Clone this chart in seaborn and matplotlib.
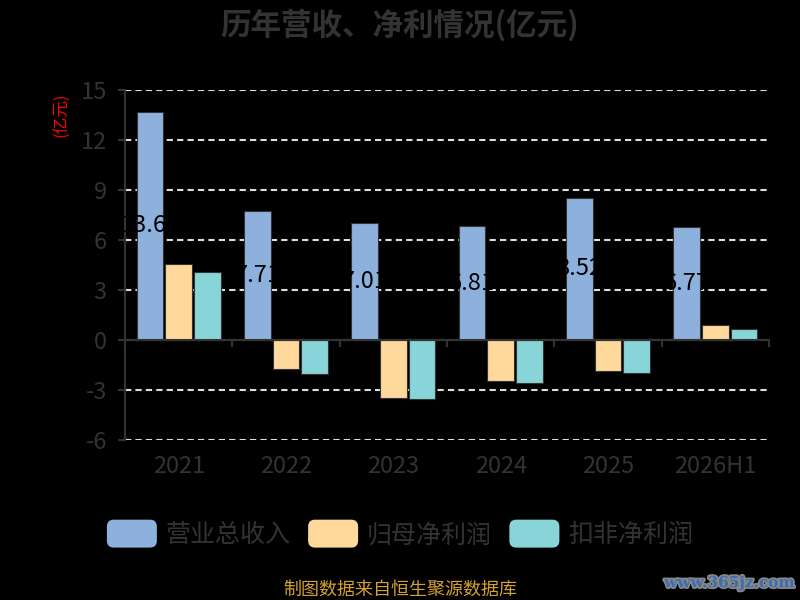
import matplotlib
matplotlib.use("Agg")
import matplotlib.pyplot as plt
import matplotlib.patheffects as pe
from matplotlib.patches import FancyBboxPatch, Patch
from matplotlib.legend_handler import HandlerPatch
import seaborn as sns
import pandas as pd

# ---- data ----
years = ["2021", "2022", "2023", "2024", "2025", "2026H1"]
revenue = [13.69, 7.71, 7.01, 6.81, 8.52, 6.77]
net_profit = [4.56, -1.72, -3.48, -2.44, -1.84, 0.90]
deducted_profit = [4.10, -2.06, -3.56, -2.60, -1.96, 0.66]
series_names = ["营业总收入", "归母净利润", "扣非净利润"]
colors = ["#8EB0DC", "#FFD99B", "#87D5D8"]
y_ticks = [-6, -3, 0, 3, 6, 9, 12, 15]

df = pd.DataFrame({
    "year": years * 3,
    "value": revenue + net_profit + deducted_profit,
    "series": [series_names[0]] * 6 + [series_names[1]] * 6 + [series_names[2]] * 6,
})

sns.set_theme(style="dark")
plt.rcParams["font.family"] = ["Noto Sans CJK SC", "DejaVu Sans"]
plt.rcParams["axes.unicode_minus"] = False

fig = plt.figure(figsize=(8, 6), dpi=100, facecolor="black")
ax = fig.add_axes([0.15625, 0.2667, 0.805, 0.5833])
ax.set_facecolor("black")

sns.barplot(data=df, x="year", y="value", hue="series", order=years,
            hue_order=series_names, palette=colors, saturation=1,
            width=0.8, gap=0.06, edgecolor="#333333", linewidth=0.8,
            ax=ax, legend=False)

ax.set_ylim(-6, 15)
ax.set_xlim(-0.5, len(years) - 0.5)
ax.set_yticks(y_ticks)
ax.set_yticklabels([str(t) for t in y_ticks])

# grid
ax.yaxis.grid(True, color="#dddddd", linestyle=(0, (3, 2)), linewidth=1.5)
ax.xaxis.grid(False)
ax.set_axisbelow(True)

# spines
for s in ["top", "right"]:
    ax.spines[s].set_visible(False)
ax.spines["left"].set_color("#333333")
ax.spines["left"].set_linewidth(1.5)
ax.spines["bottom"].set_position(("data", 0))
ax.spines["bottom"].set_color("#333333")
ax.spines["bottom"].set_linewidth(1.5)
ax.spines["bottom"].set_zorder(5)

ax.tick_params(axis="y", colors="#333333", labelsize=17, length=5, width=1.5,
               direction="out", left=True, pad=8)
ax.set_xticks(range(len(years)))
ax.set_xticklabels(years)
ax.set_xticks([i - 0.5 for i in range(len(years) + 1)], minor=True)
ax.tick_params(axis="x", which="major", length=0, labelsize=17,
               labelcolor="#333333", pad=83)
ax.tick_params(axis="x", which="minor", length=5, width=1.5, color="#333333",
               direction="out", bottom=True)

ax.set_xlabel("")
ax.set_ylabel("(亿元)", color="red", fontsize=12, rotation=90)
ax.yaxis.set_label_coords(-0.085, 0.93)

# data labels on revenue bars
ax.bar_label(ax.containers[0], labels=[f"{v:.2f}" for v in revenue],
             label_type="center", color="black", fontsize=17)

# title
fig.text(0.5, 0.958, "历年营收、净利情况(亿元)", ha="center", va="center",
         fontsize=22, fontweight="bold", color="#333333")


# legend with rounded handles
class RoundHandler(HandlerPatch):
    def create_artists(self, legend, orig_handle, xdescent, ydescent,
                       width, height, fontsize, trans):
        p = FancyBboxPatch((-xdescent, -ydescent - 2), width, height + 4,
                           boxstyle="round,pad=0,rounding_size=5",
                           facecolor=orig_handle.get_facecolor(),
                           edgecolor="none", transform=trans)
        return [p]


handles = [Patch(facecolor=c, label=n) for c, n in zip(colors, series_names)]
leg = fig.legend(handles=handles, loc="center", bbox_to_anchor=(0.5, 0.108),
                 ncol=3, frameon=False, fontsize=18, handlelength=2.0,
                 handleheight=1.0, handletextpad=0.35, columnspacing=0.7,
                 handler_map={Patch: RoundHandler()})
for t in leg.get_texts():
    t.set_color("#333333")

# footer
fig.text(0.5, 0.017, "制图数据来自恒生聚源数据库", ha="center", va="center",
         fontsize=13, color="#D4A030")
wm = fig.text(0.993, 0.028, "www.365jz.com", ha="right", va="center",
              fontsize=11, fontweight="bold", color="#3B6DB5",
              family=["DejaVu Serif"])
wm.set_path_effects([pe.withStroke(linewidth=2.5, foreground="#888888")])

fig.savefig("out.png", dpi=100, facecolor="black")
